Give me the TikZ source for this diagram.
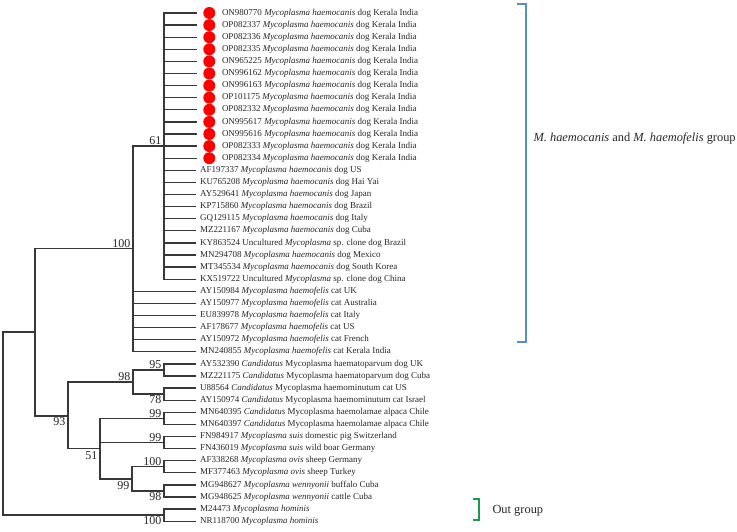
\documentclass[tikz,border=0pt]{standalone}
\usepackage{fontspec}
\setmainfont{Liberation Serif}
\usetikzlibrary{positioning}

\definecolor{treegray}{HTML}{383838}
\definecolor{txtgray}{HTML}{262626}
\definecolor{grpblue}{HTML}{5A8CC6}
\definecolor{grpgreen}{HTML}{1E9A4C}

\newcommand{\myco}[1]{\textit{Mycoplasma #1}}
\newcommand{\cand}{\textit{Candidatus}}

\begin{document}
\begin{tikzpicture}[x=1pt, y=-1pt,
    leaf/.style={anchor=west, inner xsep=4pt, inner ysep=1pt, text=txtgray, font=\fontsize{9}{10}\selectfont},
    kleaf/.style={leaf, inner xsep=0.5pt},
    kdot/.style={circle, fill=red, minimum size=12pt, inner sep=0pt, outer sep=6pt},
    boot/.style={inner xsep=2.5pt, inner ysep=1pt, text=txtgray, font=\fontsize{12}{12}\selectfont},
    branch/.style={draw=treegray, line width=1.35pt},
    grptext/.style={text=txtgray, font=\fontsize{12.4}{14}\selectfont}]

    \useasboundingbox (0,0) rectangle (737,532);

    % internal nodes
    \coordinate (root) at (3,423.6);
    \coordinate (nIn) at (35,332);
    \coordinate (n100) at (133,248.5);
    \coordinate (n61) at (164,146.1);
    \coordinate (n93) at (68,416);
    \coordinate (n98) at (133,382.05);
    \coordinate (n95) at (164,369.95);
    \coordinate (n78) at (164,394.15);
    \coordinate (n51) at (100,448.6);
    \coordinate (nAlp) at (164,418.35);
    \coordinate (nSuis) at (164,442.55);
    \coordinate (n99) at (132,478.85);
    \coordinate (nOvis) at (164,466.75);
    \coordinate (nWen) at (164,490.95);
    \coordinate (nHom) at (164,515.15);

    % bootstrap values
    \node[boot, above left=0pt of n100] (b100) {100};
    \node[boot, above left=0pt of n61] (b61) {61};
    \node[boot, below left=0pt and 0pt of n93] (b93) {93};
    \node[boot, above left=0pt of n98] (b98) {98};
    \node[boot, above left=0pt of n95] (b95) {95};
    \node[boot, below left=0pt of n78] (b78) {78};
    \node[boot, below left=2pt and 0pt of n51] (b51) {51};
    \node[boot, above left=0pt of nAlp] (bAlp) {99};
    \node[boot, above left=0pt of nSuis] (bSuis) {99};
    \node[boot, below left=2pt and 0pt of n99] (b99) {99};
    \node[boot, above left=0pt of nOvis] (bOvis) {100};
    \node[boot, below left=0pt of nWen] (bWen) {98};
    \node[boot, below left=0pt of nHom] (bHom) {100};

    % Kerala sequences
    \node[kdot] (d1) at (209.3,13) {};
    \node[kleaf, right=0pt of d1] (l1) {ON980770 \myco{haemocanis} dog Kerala India};
    \node[kdot] (d2) at (209.3,25.1) {};
    \node[kleaf, right=0pt of d2] (l2) {OP082337 \myco{haemocanis} dog Kerala India};
    \node[kdot] (d3) at (209.3,37.2) {};
    \node[kleaf, right=0pt of d3] (l3) {OP082336 \myco{haemocanis} dog Kerala India};
    \node[kdot] (d4) at (209.3,49.3) {};
    \node[kleaf, right=0pt of d4] (l4) {OP082335 \myco{haemocanis} dog Kerala India};
    \node[kdot] (d5) at (209.3,61.4) {};
    \node[kleaf, right=0pt of d5] (l5) {ON965225 \myco{haemocanis} dog Kerala India};
    \node[kdot] (d6) at (209.3,73.5) {};
    \node[kleaf, right=0pt of d6] (l6) {ON996162 \myco{haemocanis} dog Kerala India};
    \node[kdot] (d7) at (209.3,85.6) {};
    \node[kleaf, right=0pt of d7] (l7) {ON996163 \myco{haemocanis} dog Kerala India};
    \node[kdot] (d8) at (209.3,97.7) {};
    \node[kleaf, right=0pt of d8] (l8) {OP101175 \myco{haemocanis} dog Kerala India};
    \node[kdot] (d9) at (209.3,109.8) {};
    \node[kleaf, right=0pt of d9] (l9) {OP082332 \myco{haemocanis} dog Kerala India};
    \node[kdot] (d10) at (209.3,121.9) {};
    \node[kleaf, right=0pt of d10] (l10) {ON995617 \myco{haemocanis} dog Kerala India};
    \node[kdot] (d11) at (209.3,134) {};
    \node[kleaf, right=0pt of d11] (l11) {ON995616 \myco{haemocanis} dog Kerala India};
    \node[kdot] (d12) at (209.3,146.1) {};
    \node[kleaf, right=0pt of d12] (l12) {OP082333 \myco{haemocanis} dog Kerala India};
    \node[kdot] (d13) at (209.3,158.2) {};
    \node[kleaf, right=0pt of d13] (l13) {OP082334 \myco{haemocanis} dog Kerala India};

    % other sequences
    \node[leaf] (l14) at (196,170.3) {AF197337 \myco{haemocanis} dog US};
    \node[leaf] (l15) at (196,182.4) {KU765208 \myco{haemocanis} dog Hai Yai};
    \node[leaf] (l16) at (196,194.5) {AY529641 \myco{haemocanis} dog Japan};
    \node[leaf] (l17) at (196,206.6) {KP715860 \myco{haemocanis} dog Brazil};
    \node[leaf] (l18) at (196,218.7) {GQ129115 \myco{haemocanis} dog Italy};
    \node[leaf] (l19) at (196,230.8) {MZ221167 \myco{haemocanis} dog Cuba};
    \node[leaf] (l20) at (196,242.9) {KY863524 Uncultured \textit{Mycoplasma} sp. clone dog Brazil};
    \node[leaf] (l21) at (196,255) {MN294708 \myco{haemocanis} dog Mexico};
    \node[leaf] (l22) at (196,267.1) {MT345534 \myco{haemocanis} dog South Korea};
    \node[leaf] (l23) at (196,279.2) {KX519722 Uncultured \textit{Mycoplasma} sp. clone dog China};
    \node[leaf] (l24) at (196,291.3) {AY150984 \myco{haemofelis} cat UK};
    \node[leaf] (l25) at (196,303.4) {AY150977 \myco{haemofelis} cat Australia};
    \node[leaf] (l26) at (196,315.5) {EU839978 \myco{haemofelis} cat Italy};
    \node[leaf] (l27) at (196,327.6) {AF178677 \myco{haemofelis} cat US};
    \node[leaf] (l28) at (196,339.7) {AY150972 \myco{haemofelis} cat French};
    \node[leaf] (l29) at (196,351.8) {MN240855 \myco{haemofelis} cat Kerala India};
    \node[leaf] (l30) at (196,363.9) {AY532390 \cand{} Mycoplasma haematoparvum dog UK};
    \node[leaf] (l31) at (196,376) {MZ221175 \cand{} Mycoplasma haematoparvum dog Cuba};
    \node[leaf] (l32) at (196,388.1) {U88564 \cand{} Mycoplasma haemominutum cat US};
    \node[leaf] (l33) at (196,400.2) {AY150974 \cand{} Mycoplasma haemominutum cat Israel};
    \node[leaf] (l34) at (196,412.3) {MN640395 \cand{} Mycoplasma haemolamae alpaca Chile};
    \node[leaf] (l35) at (196,424.4) {MN640397 \cand{} Mycoplasma haemolamae alpaca Chile};
    \node[leaf] (l36) at (196,436.5) {FN984917 \myco{suis} domestic pig Switzerland};
    \node[leaf] (l37) at (196,448.6) {FN436019 \myco{suis} wild boar Germany};
    \node[leaf] (l38) at (196,460.7) {AF338268 \myco{ovis} sheep Germany};
    \node[leaf] (l39) at (196,472.8) {MF377463 \myco{ovis} sheep Turkey};
    \node[leaf] (l40) at (196,484.9) {MG948627 \myco{wennyonii} buffalo Cuba};
    \node[leaf] (l41) at (196,497) {MG948625 \myco{wennyonii} cattle Cuba};
    \node[leaf] (l42) at (196,509.1) {M24473 \myco{hominis}};
    \node[leaf] (l43) at (196,521.2) {NR118700 \myco{hominis}};

    % branches
    \draw[branch] (root) |- (nIn);
    \draw[branch] (root) |- (nHom);
    \draw[branch] (nIn) |- (n100);
    \draw[branch] (nIn) |- (n93);
    \draw[branch] (n100) |- (n61);
    \foreach \i in {1,...,13}
        \draw[branch] (n61) |- (d\i);
    \foreach \i in {14,...,23}
        \draw[branch] (n61) |- (l\i);
    \foreach \i in {24,...,29}
        \draw[branch] (n100) |- (l\i);
    \draw[branch] (n93) |- (n98);
    \draw[branch] (n93) |- (n51);
    \draw[branch] (n98) |- (n95);
    \draw[branch] (n98) |- (n78);
    \draw[branch] (n95) |- (l30);
    \draw[branch] (n95) |- (l31);
    \draw[branch] (n78) |- (l32);
    \draw[branch] (n78) |- (l33);
    \draw[branch] (n51) |- (nAlp);
    \draw[branch] (n51) |- (nSuis);
    \draw[branch] (n51) |- (n99);
    \draw[branch] (nAlp) |- (l34);
    \draw[branch] (nAlp) |- (l35);
    \draw[branch] (nSuis) |- (l36);
    \draw[branch] (nSuis) |- (l37);
    \draw[branch] (n99) |- (nOvis);
    \draw[branch] (n99) |- (nWen);
    \draw[branch] (nOvis) |- (l38);
    \draw[branch] (nOvis) |- (l39);
    \draw[branch] (nWen) |- (l40);
    \draw[branch] (nWen) |- (l41);
    \draw[branch] (nHom) |- (l42);
    \draw[branch] (nHom) |- (l43);

    % groups
    \draw[grpblue, line width=1.6pt] (517,4) -- (526,4) -- (526,342) -- (517,342);
    \node[grptext, anchor=west] (gHae) at (530,138) {\textit{M. haemocanis} and \textit{M. haemofelis} group};
    \draw[grpgreen, line width=2pt] (473,499) -- (479,499) -- (479,520) -- (473,520);
    \node[grptext, anchor=west] (gOut) at (489,511) {Out group};
\end{tikzpicture}
\end{document}
